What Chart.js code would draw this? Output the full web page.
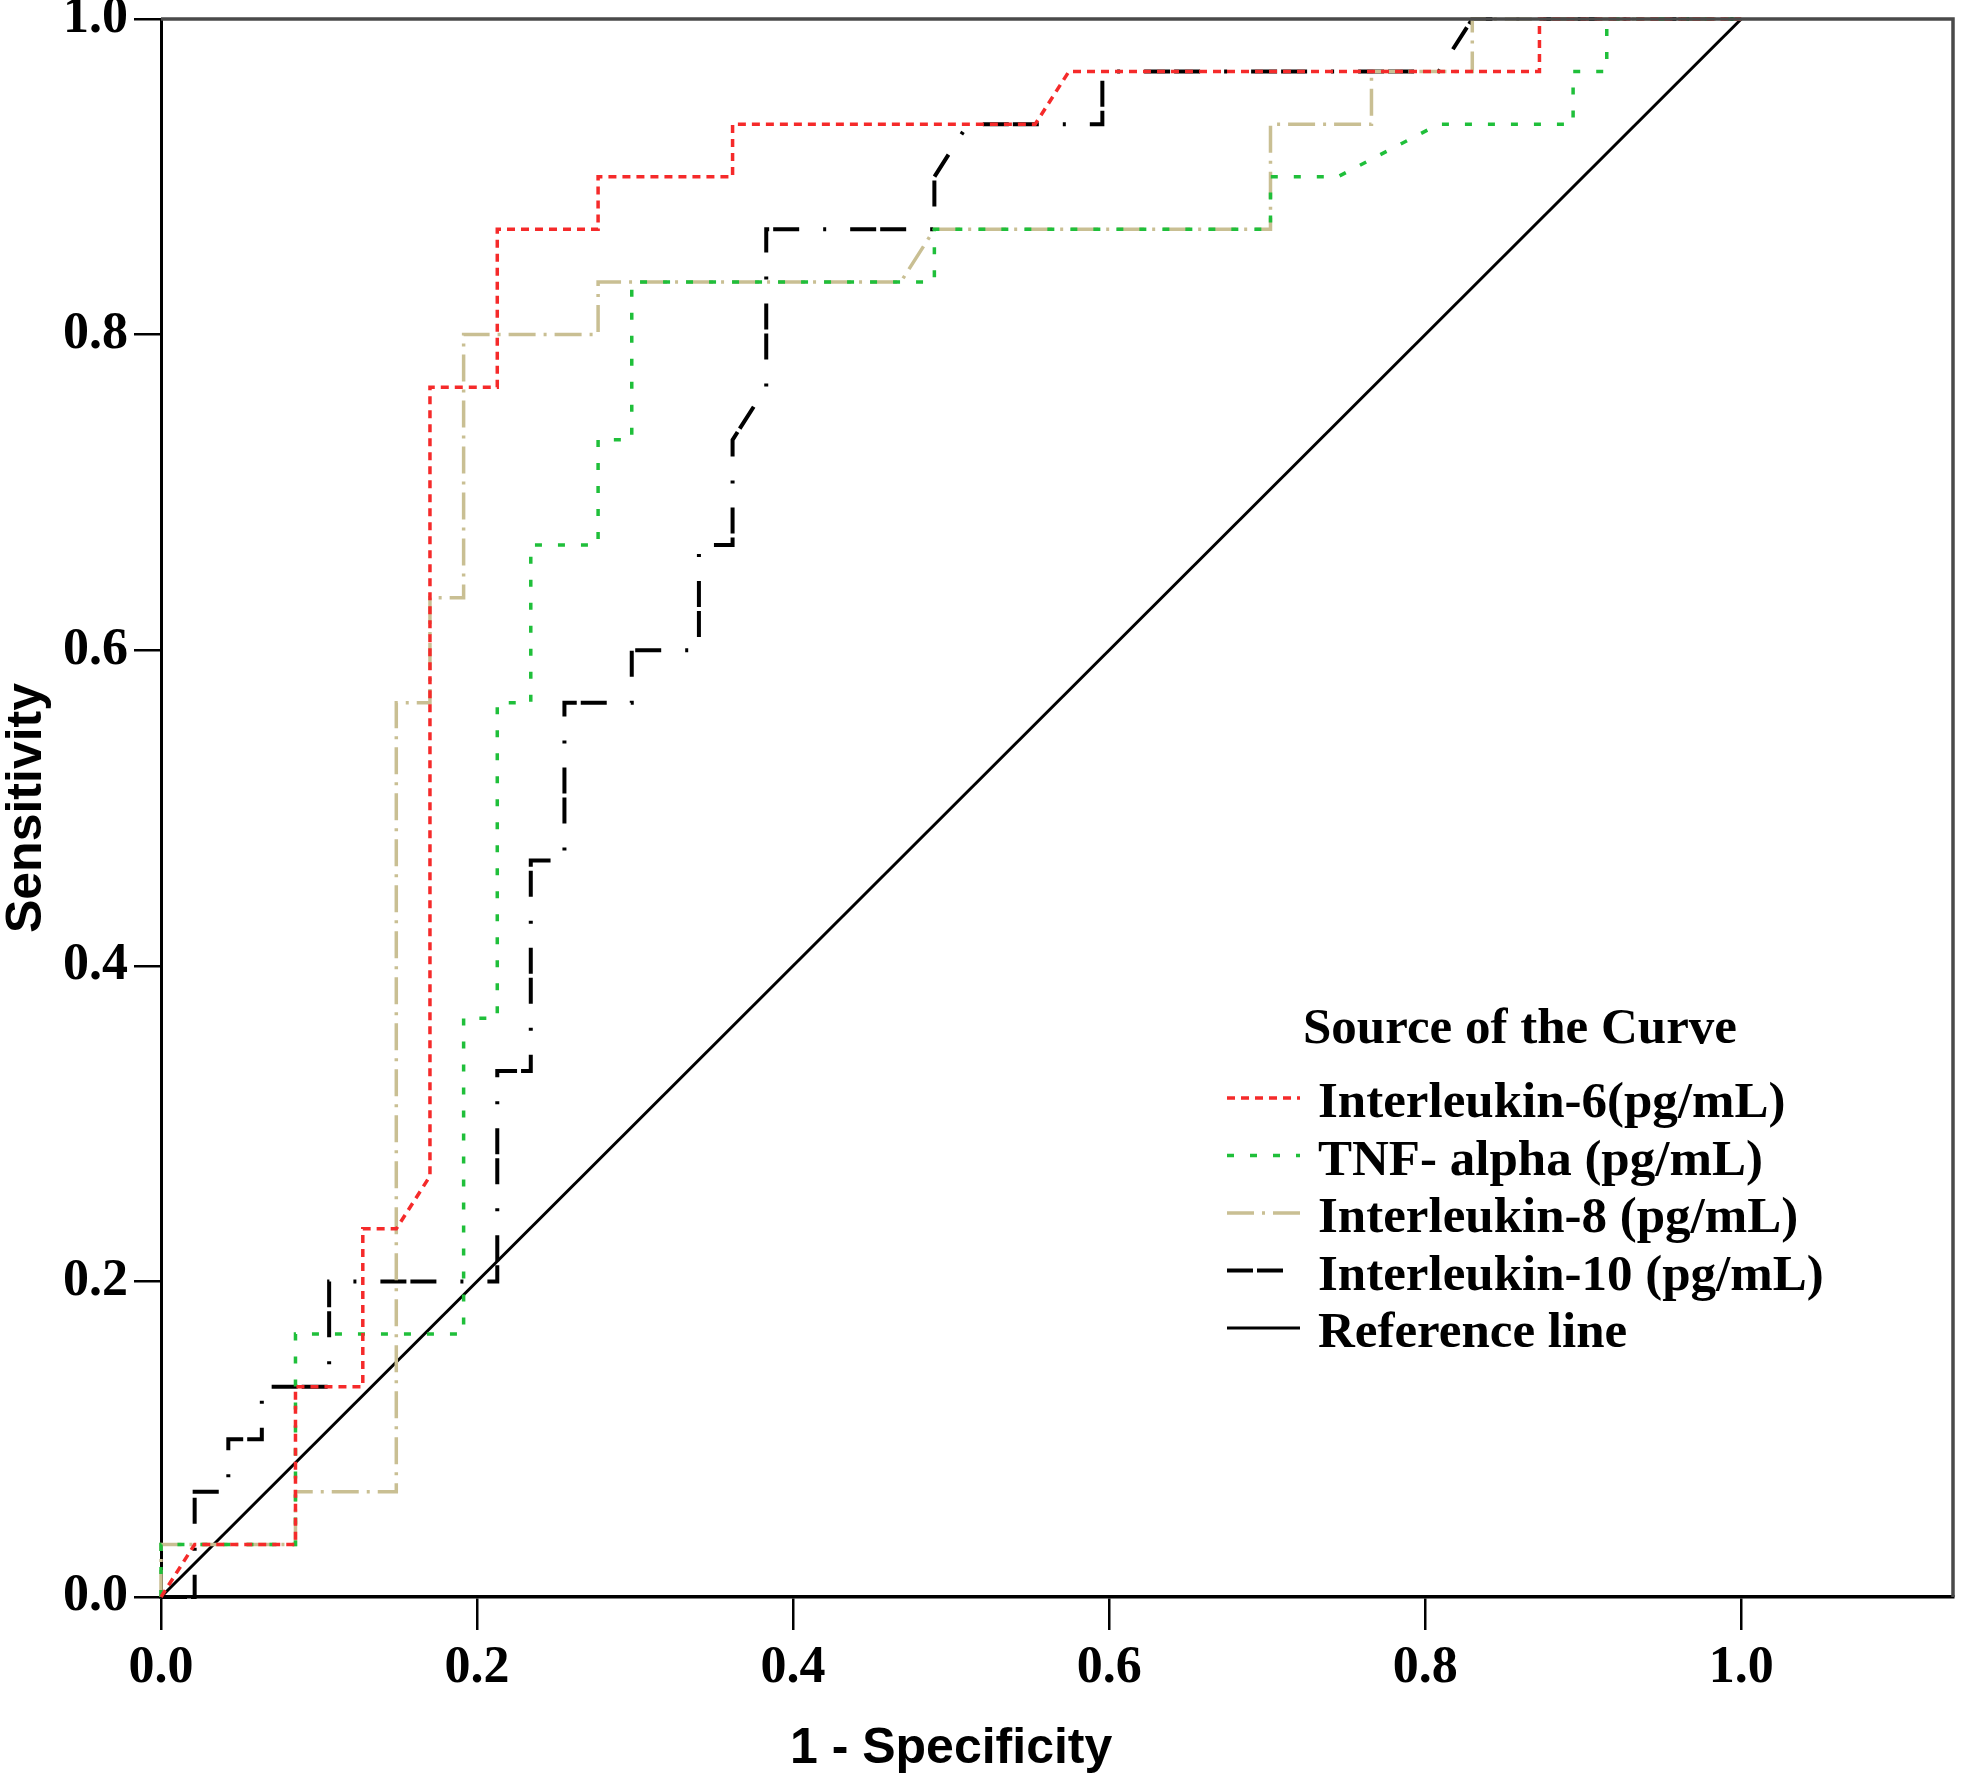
<!DOCTYPE html>
<html>
<head>
<meta charset="utf-8">
<script src="https://cdn.jsdelivr.net/npm/chart.js@4/dist/chart.umd.min.js"></script>
<style>
  html, body { margin: 0; padding: 0; background: #fff; }
  #wrap { width: 1969px; height: 1775px; }
</style>
</head>
<body>
<div id="wrap"><canvas id="c" width="1969" height="1775"></canvas></div>
<script>
// ---- data ----
const xTitle = '1 - Specificity';
const yTitle = 'Sensitivity';
const legendTitle = 'Source of the Curve';
const seriesLabels = ['Interleukin-6(pg/mL)', 'TNF- alpha (pg/mL)', 'Interleukin-8 (pg/mL)', 'Interleukin-10 (pg/mL)', 'Reference line'];
const xTickValues = [0.0, 0.2, 0.4, 0.6, 0.8, 1.0];
const yTickValues = [0.0, 0.2, 0.4, 0.6, 0.8, 1.0];

const il6X = [0, 0.0213, 0.0851, 0.0851, 0.1277, 0.1277, 0.1489, 0.1702, 0.1702, 0.2128, 0.2128, 0.2766, 0.2766, 0.3617, 0.3617, 0.5532, 0.5745, 0.8723, 0.8723, 1.0];
const il6Y = [0, 0.0333, 0.0333, 0.1333, 0.1333, 0.2333, 0.2333, 0.2667, 0.7667, 0.7667, 0.8667, 0.8667, 0.9, 0.9, 0.9333, 0.9333, 0.9667, 0.9667, 1.0, 1.0];

const tnfX = [0, 0, 0.0851, 0.0851, 0.1915, 0.1915, 0.2128, 0.2128, 0.2340, 0.2340, 0.2766, 0.2766, 0.2979, 0.2979, 0.4894, 0.4894, 0.7021, 0.7021, 0.7447, 0.8085, 0.8936, 0.8936, 0.9149, 0.9149, 1.0];
const tnfY = [0, 0.0333, 0.0333, 0.1667, 0.1667, 0.3667, 0.3667, 0.5667, 0.5667, 0.6667, 0.6667, 0.7333, 0.7333, 0.8333, 0.8333, 0.8667, 0.8667, 0.9, 0.9, 0.9333, 0.9333, 0.9667, 0.9667, 1.0, 1.0];

const il8X = [0, 0, 0.0851, 0.0851, 0.1489, 0.1489, 0.1702, 0.1702, 0.1915, 0.1915, 0.2766, 0.2766, 0.4681, 0.4894, 0.7021, 0.7021, 0.7660, 0.7660, 0.8298, 0.8298, 1.0];
const il8Y = [0, 0.0333, 0.0333, 0.0667, 0.0667, 0.5667, 0.5667, 0.6333, 0.6333, 0.8, 0.8, 0.8333, 0.8333, 0.8667, 0.8667, 0.9333, 0.9333, 0.9667, 0.9667, 1.0, 1.0];

const il10X = [0, 0.0213, 0.0213, 0.0426, 0.0426, 0.0638, 0.0638, 0.1064, 0.1064, 0.2128, 0.2128, 0.2340, 0.2340, 0.2553, 0.2553, 0.2979, 0.2979, 0.3404, 0.3404, 0.3617, 0.3617, 0.3830, 0.3830, 0.4894, 0.4894, 0.5106, 0.5957, 0.5957, 0.8085, 0.8298, 1.0];
const il10Y = [0, 0, 0.0667, 0.0667, 0.1, 0.1, 0.1333, 0.1333, 0.2, 0.2, 0.3333, 0.3333, 0.4667, 0.4667, 0.5667, 0.5667, 0.6, 0.6, 0.6667, 0.6667, 0.7333, 0.7667, 0.8667, 0.8667, 0.9, 0.9333, 0.9333, 0.9667, 0.9667, 1.0, 1.0];

const refX = [0, 1];
const refY = [0, 1];

function pts(xs, ys) { return xs.map((x, i) => ({ x: x, y: ys[i] })); }

// ---- plugins ----
const framePlugin = {
  id: 'frame',
  afterDatasetsDraw(chart) {
    const { ctx, chartArea: a } = chart;
    ctx.save();
    ctx.strokeStyle = '#4a4a4a';
    ctx.lineWidth = 3.5;
    ctx.beginPath();
    ctx.moveTo(a.left, a.top);
    ctx.lineTo(a.right, a.top);
    ctx.lineTo(a.right, a.bottom);
    ctx.stroke();
    ctx.restore();
  }
};

const titlesPlugin = {
  id: 'axisTitles',
  afterDraw(chart) {
    const ctx = chart.ctx, xs = chart.scales.x, ys = chart.scales.y;
    ctx.save();
    ctx.fillStyle = '#000';
    ctx.font = 'bold 50px "Liberation Sans", Arial, sans-serif';
    ctx.textAlign = 'center';
    ctx.textBaseline = 'alphabetic';
    ctx.fillText(xTitle, xs.getPixelForValue(0.5), 1763);
    ctx.translate(41, (ys.top + ys.bottom) / 2);
    ctx.rotate(-Math.PI / 2);
    ctx.fillText(yTitle, 0, 0);
    ctx.restore();
  }
};

const legendPlugin = {
  id: 'spssLegend',
  afterDraw(chart) {
    const ctx = chart.ctx;
    ctx.save();
    ctx.fillStyle = '#000';
    ctx.font = 'bold 51px "Liberation Serif", "Times New Roman", serif';
    ctx.textAlign = 'left';
    ctx.textBaseline = 'alphabetic';
    ctx.fillText(legendTitle, 1303, 1043);
    chart.data.datasets.forEach((ds, i) => {
      const yb = 1117 + i * 57.5;
      const ly = yb - 19;
      ctx.save();
      ctx.beginPath();
      ctx.setLineDash(ds.borderDash || []);
      ctx.lineWidth = ds.borderWidth;
      ctx.strokeStyle = ds.borderColor;
      ctx.moveTo(1227, ly);
      ctx.lineTo(1300, ly);
      ctx.stroke();
      ctx.restore();
      ctx.fillText(ds.label, 1318, yb);
    });
    ctx.restore();
  }
};

const xTickFont = { family: '"Liberation Serif", "Times New Roman", serif', weight: 'bold', size: 52 };
const yTickFont = { family: '"Liberation Serif", "Times New Roman", serif', weight: 'bold', size: 52, lineHeight: 0.5 };

new Chart(document.getElementById('c'), {
  type: 'scatter',
  data: {
    datasets: [
      { label: seriesLabels[0], data: pts(il6X, il6Y), borderColor: '#f52a2a', borderWidth: 3.5, borderDash: [8, 6] },
      { label: seriesLabels[1], data: pts(tnfX, tnfY), borderColor: '#1fbf3a', borderWidth: 3.5, borderDash: [7, 16] },
      { label: seriesLabels[2], data: pts(il8X, il8Y), borderColor: '#c9bf93', borderWidth: 3.5, borderDash: [27, 8, 3, 8] },
      { label: seriesLabels[3], data: pts(il10X, il10Y), borderColor: '#000000', borderWidth: 4, borderDash: [26, 4, 26, 24, 3, 24] },
      { label: seriesLabels[4], data: pts(refX, refY), borderColor: '#000000', borderWidth: 3, borderDash: [] }
    ].map(d => Object.assign(d, { showLine: true, pointRadius: 0, pointHoverRadius: 0, tension: 0, fill: false, clip: 8 }))
  },
  options: {
    responsive: false,
    devicePixelRatio: 1,
    animation: false,
    events: [],
    layout: { padding: { top: 15, right: 16, left: 0, bottom: 0 } },
    plugins: { legend: { display: false }, tooltip: { enabled: false }, title: { display: false } },
    scales: {
      x: {
        type: 'linear',
        min: 0,
        max: 1.134,
        afterFit(scale) { scale.height = 178; },
        afterBuildTicks(scale) { scale.ticks = xTickValues.map(v => ({ value: v })); },
        ticks: { font: xTickFont, color: '#000', padding: 7, maxRotation: 0, callback: v => Number(v).toFixed(1) },
        grid: { display: true, drawOnChartArea: false, drawTicks: true, tickLength: 33, color: '#000', lineWidth: 2.5 },
        border: { display: true, color: '#000', width: 3.5 },
        title: { display: false }
      },
      y: {
        type: 'linear',
        min: 0,
        max: 1,
        afterFit(scale) { scale.width = 161; },
        afterBuildTicks(scale) { scale.ticks = yTickValues.map(v => ({ value: v })); },
        ticks: { font: yTickFont, color: '#000', padding: 6, callback: v => Number(v).toFixed(1) },
        grid: { display: true, drawOnChartArea: false, drawTicks: true, tickLength: 27, color: '#000', lineWidth: 2.5 },
        border: { display: true, color: '#000', width: 3 },
        title: { display: false }
      }
    }
  },
  plugins: [framePlugin, titlesPlugin, legendPlugin]
});
</script>
</body>
</html>
